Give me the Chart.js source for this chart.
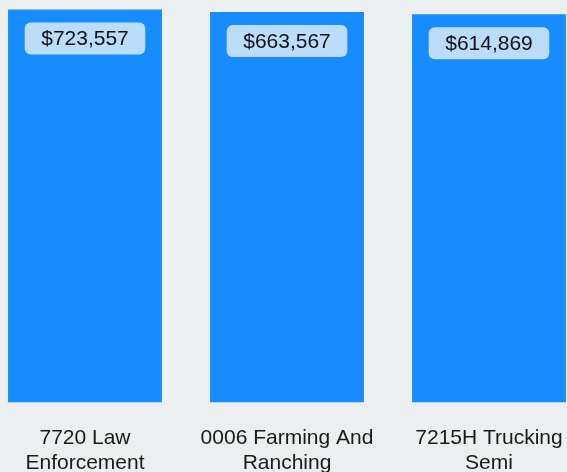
<!DOCTYPE html>
<html>
<head>
<meta charset="utf-8">
<script src="https://cdn.jsdelivr.net/npm/chart.js@4/dist/chart.umd.min.js"></script>
<style>
    html, body { margin: 0; padding: 0; background: #eceff0; overflow: hidden; }
    body { width: 567px; height: 472px; position: relative; }
    #wrap { position: absolute; left: -16px; top: 0; width: 606px; height: 499px; }
</style>
</head>
<body>
<div id="wrap"><canvas id="chart"></canvas></div>
<script>
// Data
const categories = [
    ['7720 Law', 'Enforcement'],
    ['0006 Farming And', 'Ranching'],
    ['7215H Trucking', 'Semi']
];
const premiums = [723557, 663567, 614869];

const BAR_COLOR = '#178cff';
const BOX_COLOR = '#bcdcfb';
const FONT = '"Liberation Sans", Arial, sans-serif';

function money(v) {
    return '$' + v.toLocaleString('en-US');
}

// Value badges drawn at the top of each bar
const badgePlugin = {
    id: 'badges',
    afterDatasetsDraw(chart) {
        const ctx = chart.ctx;
        const meta = chart.getDatasetMeta(0);
        ctx.save();
        ctx.font = '21px ' + FONT;
        ctx.textAlign = 'center';
        ctx.textBaseline = 'middle';
        meta.data.forEach((bar, i) => {
            const text = money(premiums[i]);
            const w = ctx.measureText(text).width + 33;
            const h = 32;
            const x = bar.x - w / 2;
            const y = bar.y + 13;
            ctx.fillStyle = BOX_COLOR;
            ctx.beginPath();
            ctx.roundRect(x, y, w, h, 6);
            ctx.fill();
            ctx.fillStyle = '#111';
            ctx.fillText(text, bar.x, y + h / 2 + 1);
        });
        ctx.restore();
    }
};

const ctx = document.getElementById('chart').getContext('2d');
new Chart(ctx, {
    type: 'bar',
    data: {
        labels: categories,
        datasets: [{
            data: premiums,
            backgroundColor: BAR_COLOR,
            borderWidth: 0,
            categoryPercentage: 1,
            barPercentage: 0.762
        }]
    },
    options: {
        responsive: true,
        maintainAspectRatio: false,
        animation: false,
        layout: { padding: 0 },
        plugins: {
            legend: { display: false },
            tooltip: { enabled: false }
        },
        scales: {
            x: {
                grid: { display: false, drawTicks: false },
                border: { display: false },
                ticks: {
                    color: '#1a1a1a',
                    padding: 23,
                    maxRotation: 0,
                    autoSkip: false,
                    font: { family: FONT, size: 21, lineHeight: 1.2 }
                }
            },
            y: {
                type: 'logarithmic',
                display: false,
                min: 1,
                max: 1000000
            }
        }
    },
    plugins: [badgePlugin]
});
</script>
</body>
</html>
